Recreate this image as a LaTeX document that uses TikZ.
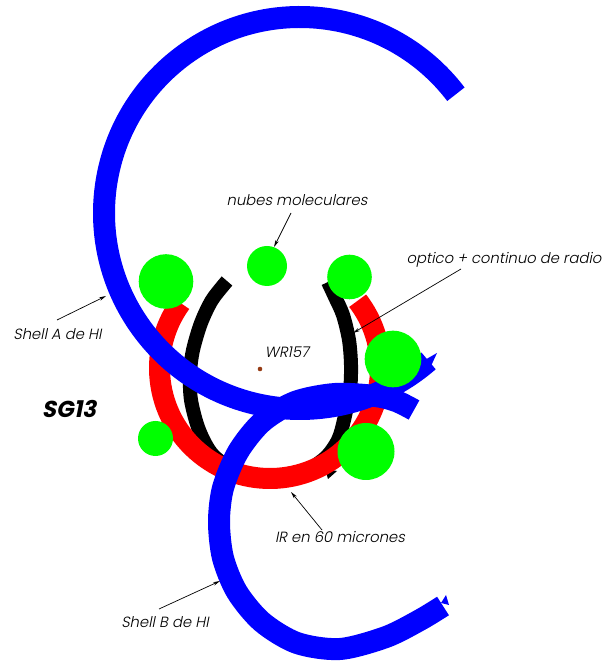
\documentclass[tikz,border=0pt]{standalone}
\usepackage{fontspec}
\newfontfamily\lab[FakeSlant=0.2, UprightFont=* Light, BoldFont=* Bold]{Poppins}
\usetikzlibrary{arrows.meta}
\definecolor{cgreen}{RGB}{0,255,0}
\definecolor{cblue}{RGB}{0,0,255}
\definecolor{cred}{RGB}{255,0,0}
\definecolor{cbrown}{RGB}{150,60,20}
\begin{document}
\begin{tikzpicture}[x=1pt,y=1pt,
  shell/.style={draw=cblue, line width=22pt},
  irband/.style={draw=cred, line width=21pt},
  optband/.style={draw=black, line width=14pt},
  cloud/.style={fill=cgreen},
  spike/.style={fill=cblue},
  lbl/.style={font=\lab\fontsize{14.8}{16}\selectfont, inner sep=0pt},
  ptr/.style={draw=black, line width=0.7pt, -{Stealth[length=7pt,width=3.5pt]}}]
\useasboundingbox (0,0) rectangle (606,661);
% black (optico + continuo de radio)
\draw[optband] plot[smooth] coordinates {(227,380) (212,361) (201,338) (193,311) (190,288) (191,261) (199,231) (213,206) (240,187) (270,181) (300,187) (325,203) (338,221) (344,241) (350,271) (351,296) (349,321) (343,346) (335,364) (328,379)};
\fill[black] (325,192) -- (337,190) -- (328,182) -- cycle;
% red (IR 60 micrones)
\draw[irband] (270,293) ++(144:110.5) arc[start angle=144, end angle=397.5, radius=110.5];
% Shell A
\draw[shell] (300,448) ++(37.3:196) arc[start angle=37.3, end angle=311, radius=196];
\fill[spike] (423,300) -- (437,308) -- (431,295) -- cycle;
% Shell B
\draw[shell] plot[smooth] coordinates {(414,251) (396,260) (375,265) (335,267) (295,259) (262,239) (238,209) (223,173) (219,139) (223,103) (237,69) (262,39) (297,18) (340,12) (386,24) (420,41) (443,55)};
\fill[spike] (441,58) -- (446,66) -- (449,56) -- cycle;
% molecular clouds
\fill[cloud] (166,379.5) circle[radius=27.3] coordinate (c1);
\fill[cloud] (267,395) circle[radius=20] coordinate (c2);
\fill[cloud] (349.5,384) circle[radius=22.3] coordinate (c3);
\fill[cloud] (393,302) circle[radius=28.3] coordinate (c4);
\fill[cloud] (366,209.5) circle[radius=28.5] coordinate (c5);
\fill[cloud] (155.5,222.5) circle[radius=17.5] coordinate (c6);
% star
\fill[cbrown] (260,292) circle[radius=2.3] coordinate (star);
% labels
\node[lbl] (nubes) at (297,461) {nubes moleculares};
\node[lbl] (optico) at (504,401) {optico + continuo de radio};
\node[lbl] (shellA) at (57.5,327) {Shell A de HI};
\node[lbl] (wr) at (287,309) {WR157};
\node[lbl] (ir) at (340,124) {IR en 60 micrones};
\node[lbl] (shellB) at (165,39) {Shell B de HI};
\node[inner sep=0pt, font=\lab\bfseries\fontsize{23}{26}\selectfont] (sg) at (69,252) {SG13};
% pointers
\coordinate (nubesS) at (291,448); \coordinate (nubesT) at (274,414);
\coordinate (opS) at (461,392);    \coordinate (opT) at (353,328);
\coordinate (aS) at (57,341);      \coordinate (aT) at (106,365);
\coordinate (irS) at (322,131);    \coordinate (irT) at (291,169);
\coordinate (bS) at (159,52);      \coordinate (bT) at (220,80);
\draw[ptr] (nubesS) -- (nubesT);
\draw[ptr] (opS) -- (opT);
\draw[ptr] (aS) -- (aT);
\draw[ptr] (irS) -- (irT);
\draw[ptr] (bS) -- (bT);
\end{tikzpicture}
\end{document}
